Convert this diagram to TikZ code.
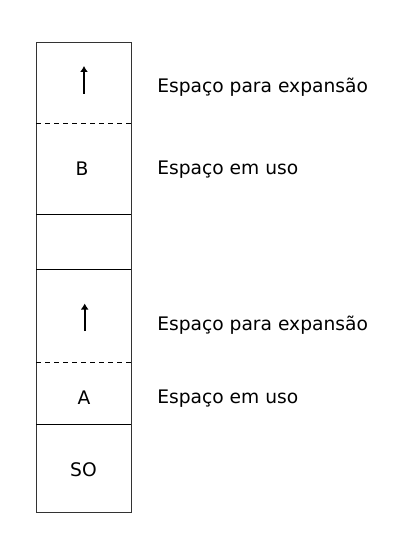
\documentclass[tikz,border=0pt]{standalone}
\usepackage{fontspec}
\setmainfont{DejaVu Sans}
\usepackage{tikz}
\usetikzlibrary{arrows.meta, positioning}
\tikzstyle{cell}=[rectangle, minimum width=70.9pt, inner sep=0pt, outer sep=0pt]
\tikzstyle{tag}=[inner sep=0pt, font=\fontsize{14pt}{16pt}\selectfont]
\tikzstyle{growarrow}=[line width=1.5pt, -{Latex[length=4.5pt,width=6pt]}]
\tikzstyle{sep}=[line width=0.75pt, black]

\begin{document}
\begin{tikzpicture}[x=0.75pt, y=-0.75pt]
      \useasboundingbox (0,0) rectangle (402,545);
      \node[cell, minimum height=60.4pt, anchor=north] (freeB) at (83.75,43) {};
	   \node[cell, minimum height=67.9pt] (useB) [below=0pt of freeB] {};
	   \node[cell, minimum height=41.25pt] (gap) [below=0pt of useB] {};
	   \node[cell, minimum height=69.75pt] (freeA) [below=0pt of gap] {};
	   \node[cell, minimum height=46.5pt] (useA) [below=0pt of freeA] {};
	   \node[cell, minimum height=66pt] (so) [below=0pt of useA] {};
      \draw[sep, black!80] (freeB.north west) rectangle (so.south east);
      \draw[sep, dash pattern=on 3.75pt off 3pt] (freeB.south west) -- (freeB.south east);
      \draw[sep] (useB.south west) -- (useB.south east);
      \draw[sep] (gap.south west) -- (gap.south east);
      \draw[sep, dash pattern=on 3.75pt off 3pt] (freeA.south west) -- (freeA.south east);
      \draw[sep] (useA.south west) -- (useA.south east);
      % letras das caixas
      \node[tag, anchor=base] (lB) at (82,175.7) {B};
      \node[tag, anchor=base] (lA) at (84,404) {A};
      \node[tag, anchor=base] (lSO) at (83.5,476.5) {SO};
      % setas de crescimento
      \coordinate (gB0) at (84,94);
      \coordinate (gB1) at (84,66);
      \coordinate (gA0) at (84.7,331);
      \coordinate (gA1) at (84.7,303.5);
      \draw[growarrow] (gB0) -- (gB1);
      \draw[growarrow] (gA0) -- (gA1);
      % legendas
      \node[tag, anchor=base west] (tB1) at (157,92.3) {Espaço para expansão};
      \node[tag, anchor=base west] (tB2) at (157,174.7) {Espaço em uso};
      \node[tag, anchor=base west] (tA1) at (157,330) {Espaço para expansão};
      \node[tag, anchor=base west] (tA2) at (157,403.7) {Espaço em uso};
  \end{tikzpicture}
\end{document}
